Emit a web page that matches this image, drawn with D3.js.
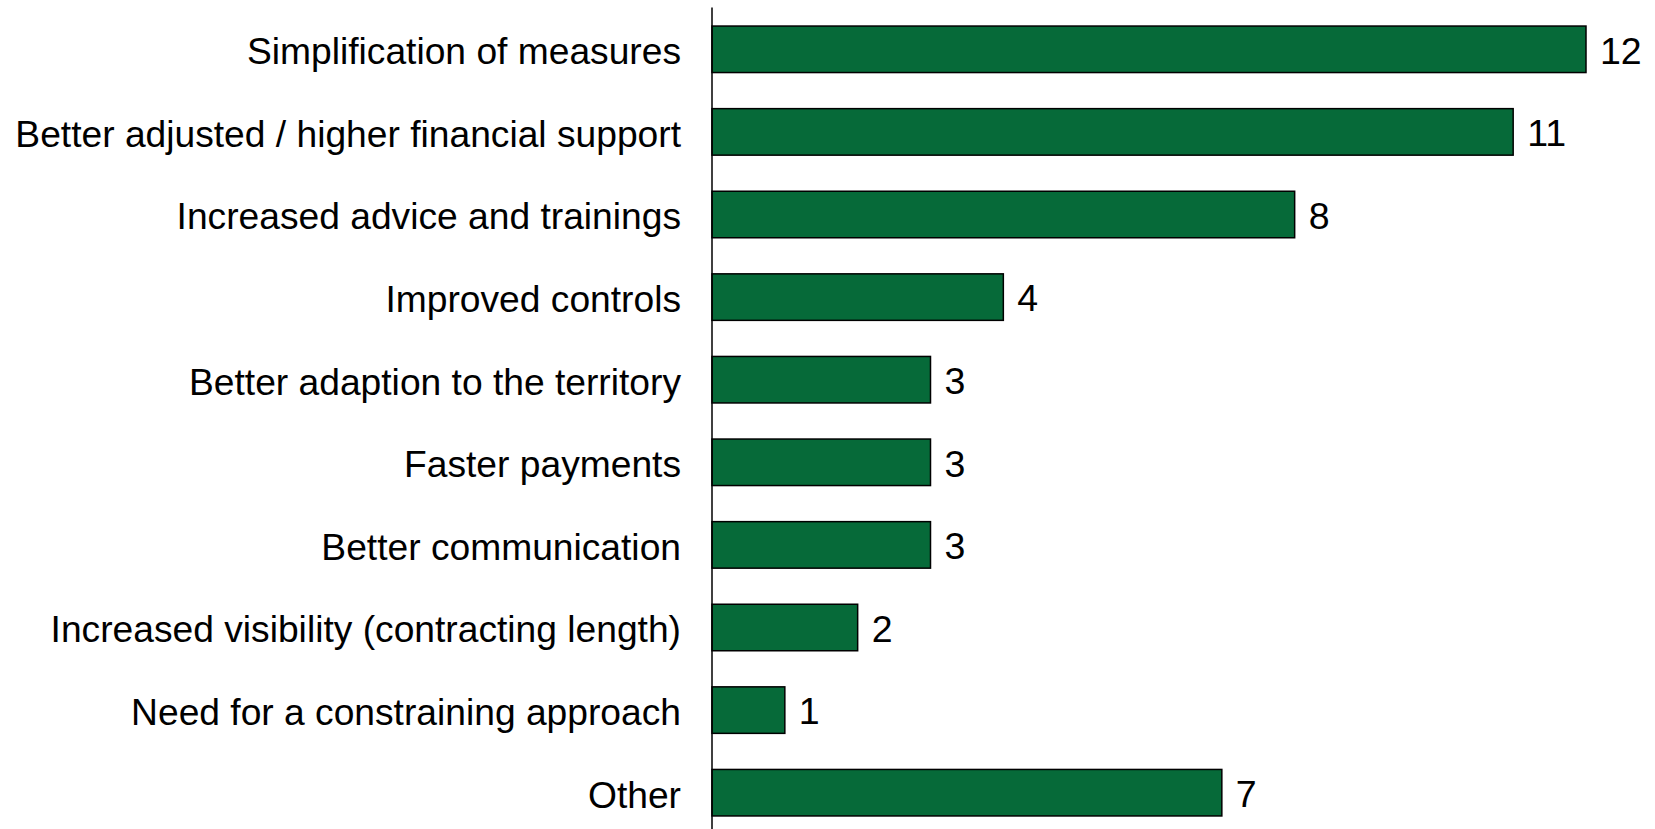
<!DOCTYPE html>
<html><head><meta charset="utf-8">
<script src="https://cdn.jsdelivr.net/npm/d3@7"></script>
<style>body{margin:0;background:#fff}svg{display:block}</style>
</head><body>
<script>
const categories = ["Simplification of measures","Better adjusted / higher financial support","Increased advice and trainings","Improved controls","Better adaption to the territory","Faster payments","Better communication","Increased visibility (contracting length)","Need for a constraining approach","Other"];
const values = [12,11,8,4,3,3,3,2,1,7];

const W = 1655, H = 829;
const x0 = 712;
const svg = d3.select("body").append("svg").attr("width", W).attr("height", H);
const x = d3.scaleLinear().domain([0, 12]).range([x0, x0 + 874]);
const y = d3.scaleBand().domain(categories).range([8, 834]).paddingInner(0.437).paddingOuter(0.2185);
const font = "Liberation Sans, Arial, Helvetica, sans-serif";

svg.selectAll("rect.bar").data(values).enter().append("rect")
  .attr("class","bar")
  .attr("x", x(0))
  .attr("y", (d,i) => y(categories[i]))
  .attr("width", d => x(d) - x(0))
  .attr("height", y.bandwidth())
  .attr("fill", "#066a39")
  .attr("stroke", "#000")
  .attr("stroke-width", 1.5);

svg.selectAll("text.val").data(values).enter().append("text")
  .attr("class","val")
  .attr("x", d => x(d) + 14)
  .attr("y", (d,i) => y(categories[i]) + y.bandwidth()/2)
  .attr("dy", "0.38em")
  .attr("font-family", font).attr("font-size", 37.5)
  .text(d => d);

const yAxis = d3.axisLeft(y).tickSize(0).tickPadding(31);
const g = svg.append("g").attr("transform", `translate(${x0},0)`).call(yAxis);
g.select(".domain").attr("d", `M0,7.5V829`).attr("stroke", "#000").attr("stroke-width", 1.5);
g.selectAll(".tick text").attr("font-family", font).attr("font-size", 37.2).attr("fill", "#000").attr("dy", "0.4em");
</script>
</body></html>
